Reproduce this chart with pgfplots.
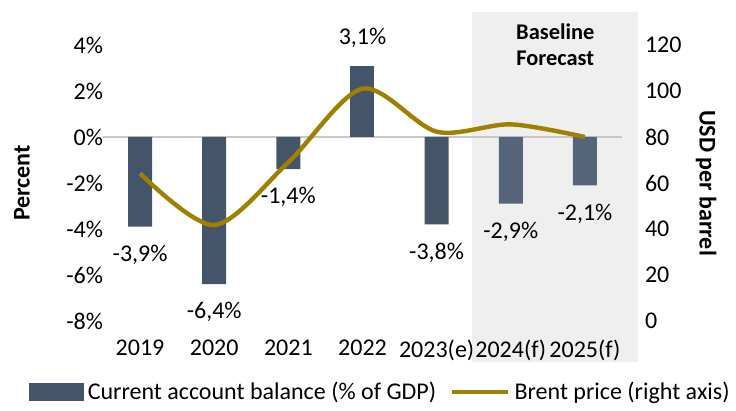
\documentclass[border=0pt]{standalone}
\usepackage{pgfplots}
\pgfplotsset{compat=1.18}
\usepackage{fontspec}
\setmainfont{Carlito}
\definecolor{cabar}{HTML}{44546A}
\definecolor{cafc}{HTML}{56657A}
\definecolor{brent}{RGB}{160,128,0}
\definecolor{fcshade}{HTML}{EFEFEF}
\definecolor{zeroln}{HTML}{C8C8C8}

\begin{document}
\begin{tikzpicture}[font=\fontsize{12}{14}\selectfont]
\path[use as bounding box] (-51.5pt,-45pt) rectangle (316.5pt,160.5pt);
\begin{axis}[
  scale only axis, width=259.5pt, height=138pt,
  xmin=-0.5, xmax=6.5, ymin=-8, ymax=4,
  clip=false, axis on top,
  axis line style={draw=none}, major tick length=0pt,
  xtick={0,...,6},
  xticklabels={2019,2020,2021,2022,2023(e),2024(f),2025(f)},
  ytick={-8,-6,...,4},
  yticklabels={-8\%,-6\%,-4\%,-2\%,0\%,2\%,4\%},
  yticklabel shift=-3.5pt, xticklabel shift=6pt,
  ylabel={\textbf{Percent}},
  ylabel style={at={(axis description cs:-0.156,0.5)}, anchor=center},
  ybar, bar width=12pt,
  point meta=explicit symbolic,
  nodes near coords,
  every node near coord/.append style={inner ysep=9pt, text=black},
  legend style={at={(axis description cs:0.536,-0.257)}, anchor=center,
    legend columns=2, draw=none, fill=none,
    /tikz/every even column/.append style={column sep=5pt},
    nodes={inner xsep=2pt}},
]
  \fill[fcshade] (axis cs:4.48,5.43) rectangle (axis cs:6.71,-9.78);
  \draw[zeroln, line width=0.8pt] (axis cs:-0.5,0) -- (axis cs:6.5,0);
  \node[font=\fontsize{11.2}{13}\selectfont\bfseries, align=center]
    at (axis cs:5.6,4.0) {Baseline\\Forecast};
  \addplot[fill=cabar, draw=none, bar shift=0pt,
    nodes near coords align={anchor=north},
    legend image code/.code={\fill[cabar] (0pt,-4.5pt) rectangle (27.5pt,4.5pt);}]
    coordinates {
      (0,-3.9) [-3,9\%]
      (1,-6.4) [-6,4\%]
      (2,-1.4) [-1,4\%]
      (4,-3.8) [-3,8\%]
    };
  \addlegendentry{Current account balance (\% of GDP)}
  \addplot[fill=cabar, draw=none, bar shift=0pt, forget plot,
    nodes near coords align={anchor=south}]
    coordinates {
      (3,3.1)  [3,1\%]
    };
  \addplot[fill=cafc, draw=none, bar shift=0pt, forget plot,
    nodes near coords align={anchor=north}]
    coordinates {
      (5,-2.9) [-2,9\%]
      (6,-2.1) [-2,1\%]
    };
  \addlegendimage{legend image code/.code={\draw[brent, line width=2.2pt] (0pt,0pt) -- (28pt,0pt);}}
  \addlegendentry{Brent price (right axis)}
\end{axis}
\begin{axis}[
  scale only axis, width=259.5pt, height=138pt,
  xmin=-0.5, xmax=6.5, ymin=0, ymax=120,
  axis y line*=right, axis x line=none,
  axis line style={draw=none}, major tick length=0pt,
  ytick={0,20,...,120},
  yticklabels={0,20,40,60,80,100,120},
  yticklabel shift=8pt,
  ylabel={\textbf{USD per barrel}},
  ylabel style={at={(axis description cs:1.162,0.5)}, anchor=center, rotate=180},
]
  \addplot[brent, line width=2.2pt, smooth] coordinates {
    (0,64.2) (1,41.7) (2,69) (3,101) (4,82.3) (5,85.5) (6,80)
  };
\end{axis}
\end{tikzpicture}
\end{document}
